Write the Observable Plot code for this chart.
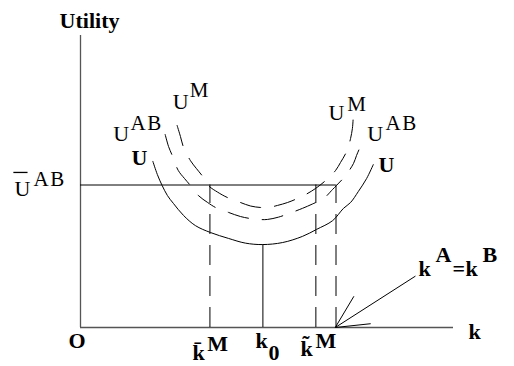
<!DOCTYPE html>
<html>
<head>
<meta charset="utf-8">
<script src="https://cdn.jsdelivr.net/npm/d3@7"></script>
<script src="https://cdn.jsdelivr.net/npm/@observablehq/plot@0.6"></script>
<style>
  html, body { margin: 0; padding: 0; background: #fff; }
  #chart svg { overflow: visible; display: block; }
  #chart svg text { font-family: "Liberation Serif", "Times New Roman", serif !important; }
</style>
</head>
<body>
<div id="chart"></div>
<script>
// ---- Data (k on the horizontal axis, utility on the vertical axis) ----
const curveU = [
  [1.94,5.69],[2.06,5.24],[2.19,4.86],[2.33,4.52],[2.49,4.25],[2.76,3.84],[3.08,3.49],
  [3.49,3.25],[3.97,3.05],[4.42,2.89],[4.88,2.84],[5.42,2.91],[5.95,3.12],[6.33,3.36],
  [6.76,3.66],[7.05,4.08],[7.24,4.28],[7.45,4.66],[7.67,5.10],[7.85,5.58]
];
const curveUAB = [
  [2.27,6.61],[2.36,6.20],[2.46,5.89],[2.62,5.38],[2.79,5.10],[2.95,4.86],[3.16,4.52],
  [3.41,4.28],[3.62,4.11],[3.97,3.94],[4.29,3.80],[4.56,3.73],[4.77,3.70],[5.01,3.70],
  [5.31,3.78],[5.58,3.90],[5.95,4.08],[6.22,4.23],[6.52,4.42],[6.76,4.73],[6.86,4.86],
  [7.11,5.21],[7.32,5.62],[7.40,5.89],[7.49,6.16]
];
const curveUM = [
  [2.59,6.92],[2.68,6.54],[2.76,6.18],[2.95,5.71],[3.11,5.44],[3.26,5.20],[3.43,4.86],
  [3.67,4.64],[3.94,4.45],[4.29,4.28],[4.56,4.16],[4.83,4.11],[5.04,4.11],[5.28,4.18],
  [5.55,4.28],[5.82,4.42],[6.06,4.57],[6.30,4.76],[6.57,5.03],[6.84,5.38],[6.97,5.65],
  [7.11,5.96],[7.19,6.23],[7.24,6.47],[7.29,6.82],[7.31,7.16]
];
const uBarAB = 4.88;               // level of Ū^AB
const kBarM = 3.47, k0 = 4.89, kTildeM = 6.31, kAeqB = 6.85;
const uMin = 2.84;                 // minimum of U at k0
const axisMax = 10;
const arrowLines = [
  {k1: 8.98, u1: 1.76, k2: 6.83, u2: 0},
  {k1: 6.83, u1: 0, k2: 7.33, u2: 1.07},
  {k1: 6.83, u1: 0, k2: 7.78, u2: 0.13}
];
// label texts and anchors (baseline-left) in data units
const labelsRegular = [
  {text: "U", k: 2.47, u: 7.50}, {text: "U", k: 0.88, u: 6.40},
  {text: "U", k: 6.65, u: 7.09}, {text: "U", k: 7.69, u: 6.40},
  {text: "U", k: -1.77, u: 4.49}
];
const labelsSup = [
  {text: "M", k: 2.93, u: 7.91}, {text: "AB", k: 1.34, u: 6.75},
  {text: "M", k: 7.15, u: 7.43}, {text: "AB", k: 8.18, u: 6.75},
  {text: "AB", k: -1.26, u: 4.86}
];
const labelsBold = [
  {text: "Utility", k: -0.56, u: 10.27},
  {text: "U", k: 1.37, u: 5.58}, {text: "U", k: 7.99, u: 5.31},
  {text: "O", k: -0.32, u: -0.69},
  {text: "k\u0304", k: 3.00, u: -1.13}, {text: "M", k: 3.40, u: -0.79},
  {text: "k", k: 4.69, u: -0.69}, {text: "0", k: 5.04, u: -1.13},
  {text: "k\u0303", k: 5.90, u: -0.96}, {text: "M", k: 6.30, u: -0.69},
  {text: "k", k: 10.40, u: -0.38},
  {text: "k", k: 9.06, u: 1.78}, {text: "A", k: 9.52, u: 2.23},
  {text: "=", k: 9.97, u: 1.78}, {text: "k", k: 10.32, u: 1.78},
  {text: "B", k: 10.78, u: 2.23}
];
const accentBars = [
  {k1: -1.80, k2: -1.42, u: 5.31}    // bar over U (Ū^AB)
];

const serif = "Liberation Serif";
const dash = "21,14";

const chart = Plot.plot({
  width: 514,
  height: 366,
  marginLeft: 80,
  marginRight: 61,
  marginTop: 35,
  marginBottom: 39,
  x: {domain: [0, axisMax], axis: null},
  y: {domain: [0, axisMax], axis: null},
  style: {background: "white", overflow: "visible", fontFamily: "Liberation Serif"},
  marks: [
    // axes
    Plot.ruleX([0], {y1: 0, y2: axisMax, stroke: "#555", strokeWidth: 1.3}),
    Plot.ruleY([0], {x1: 0, x2: axisMax, stroke: "#555", strokeWidth: 1.5}),
    // Ū^AB level
    Plot.ruleY([uBarAB], {x1: 0, x2: kAeqB, stroke: "black", strokeWidth: 1}),
    // verticals
    Plot.ruleX([kBarM, kTildeM, kAeqB], {y1: 0, y2: uBarAB, stroke: "black", strokeWidth: 1, strokeDasharray: "20,11"}),
    Plot.ruleX([k0], {y1: 0, y2: uMin, stroke: "black", strokeWidth: 1}),
    // curves
    Plot.line(curveU, {x: d => d[0], y: d => d[1], curve: "catmull-rom", stroke: "black", strokeWidth: 1}),
    Plot.line(curveUAB, {x: d => d[0], y: d => d[1], curve: "catmull-rom", stroke: "black", strokeWidth: 1, strokeDasharray: dash}),
    Plot.line(curveUM, {x: d => d[0], y: d => d[1], curve: "catmull-rom", stroke: "black", strokeWidth: 1, strokeDasharray: dash}),
    // arrow lines
    Plot.link(arrowLines, {x1: "k1", y1: "u1", x2: "k2", y2: "u2", stroke: "black", strokeWidth: 1}),
    // accent bar over U
    Plot.link(accentBars, {x1: "k1", x2: "k2", y1: "u", y2: "u", stroke: "black", strokeWidth: 1.3}),
    // labels
    Plot.text(labelsRegular, {x: "k", y: "u", text: "text", textAnchor: "start", lineAnchor: "bottom", fontSize: 22, fontFamily: serif, fill: "black"}),
    Plot.text(labelsSup, {x: "k", y: "u", text: "text", textAnchor: "start", lineAnchor: "bottom", fontSize: 21, fontFamily: serif, fill: "black"}),
    Plot.text(labelsBold, {x: "k", y: "u", text: "text", textAnchor: "start", lineAnchor: "bottom", fontSize: 22, fontWeight: "bold", fontFamily: serif, fill: "black"})
  ]
});
d3.select(chart).selectAll("text")
  .filter(function() { return this.textContent === "AB"; })
  .attr("letter-spacing", "1.5px");
document.getElementById("chart").appendChild(chart);
</script>
</body>
</html>
